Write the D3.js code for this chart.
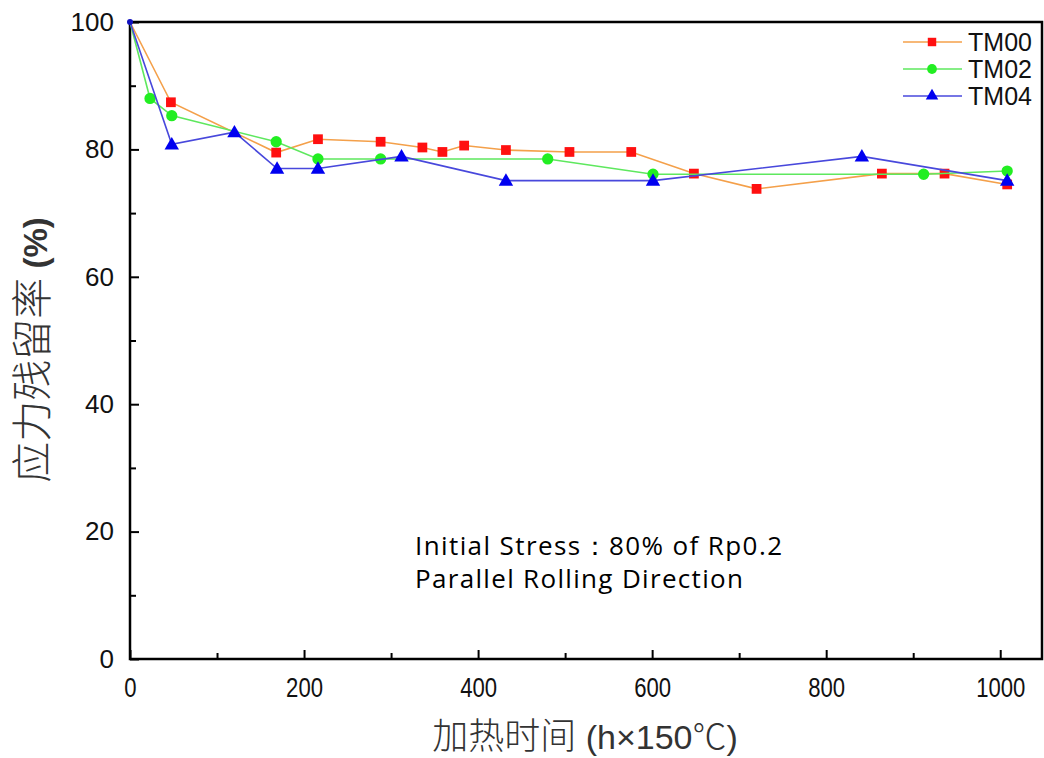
<!DOCTYPE html>
<html>
<head>
<meta charset="utf-8">
<script src="https://cdn.jsdelivr.net/npm/d3@7"></script>
<style>
    body { margin: 0; background: #fff; }
    svg { display: block; }
</style>
</head>
<body>
<svg id="chart"></svg>
<script>
// данные (читаются с картинки)
const tm00X = [0, 47, 168, 216, 288, 336, 359, 384, 432, 505, 576, 648, 720, 864, 936, 1008];
const tm00Y = [100, 87.4, 79.5, 81.6, 81.2, 80.3, 79.6, 80.6, 79.9, 79.6, 79.6, 76.2, 73.8, 76.2, 76.2, 74.5];
const tm02X = [0, 23, 48, 168, 216, 288, 480, 601, 912, 1008];
const tm02Y = [100, 88.0, 85.3, 81.2, 78.5, 78.5, 78.5, 76.1, 76.1, 76.6];
const tm04X = [0, 48, 120, 169, 216, 312, 432, 601, 841, 1008];
const tm04Y = [100, 80.8, 82.7, 77.0, 77.0, 78.9, 75.1, 75.1, 78.9, 75.1];
const seriesNames = ['TM00', 'TM02', 'TM04'];
const xTicks = [0, 200, 400, 600, 800, 1000];
const xMinorTicks = [100, 300, 500, 700, 900];
const yTicks = [0, 20, 40, 60, 80, 100];
const yMinorTicks = [10, 30, 50, 70, 90];

const width = 1044;
const height = 758;
const plotLeft = 130, plotRight = 1042, plotTop = 22, plotBottom = 659;

let svg = d3.select("#chart").attr("width", width).attr("height", height);

let scX = d3.scaleLinear().domain([0, 1048]).range([plotLeft, plotRight]);
let scY = d3.scaleLinear().domain([0, 100]).range([plotBottom, plotTop]);

const series = [
    { name: seriesNames[0], xs: tm00X, ys: tm00Y, line: "#f4a04a", fill: "#ff1010", shape: d3.symbolSquare, size: 95 },
    { name: seriesNames[1], xs: tm02X, ys: tm02Y, line: "#5ee85e", fill: "#22ee22", shape: d3.symbolCircle, size: 100 },
    { name: seriesNames[2], xs: tm04X, ys: tm04Y, line: "#4848dc", fill: "#0000f0", shape: d3.symbolTriangle, size: 90 }
];

// оси
let axisX = d3.axisBottom(scX).tickValues(xTicks).tickFormat(d3.format("d"))
    .tickSizeInner(-9).tickSizeOuter(0).tickPadding(19);
let axisXMinor = d3.axisBottom(scX).tickValues(xMinorTicks).tickSizeInner(-6).tickSizeOuter(0).tickFormat("");
let axisY = d3.axisLeft(scY).tickValues(yTicks).tickSizeInner(-9).tickSizeOuter(0).tickPadding(16);
let axisYMinor = d3.axisLeft(scY).tickValues(yMinorTicks).tickSizeInner(-6).tickSizeOuter(0).tickFormat("");

let gx = svg.append("g").attr("transform", `translate(0, ${plotBottom})`).call(axisX);
svg.append("g").attr("transform", `translate(0, ${plotBottom})`).call(axisXMinor);
let gy = svg.append("g").attr("transform", `translate(${plotLeft}, 0)`).call(axisY);
svg.append("g").attr("transform", `translate(${plotLeft}, 0)`).call(axisYMinor);

svg.selectAll(".domain").remove();
svg.selectAll(".tick line").attr("stroke", "#000").attr("stroke-width", 2);

// подписи по X чуть сжаты по горизонтали
gx.selectAll("text")
    .attr("font-family", "Liberation Sans, Arial, sans-serif")
    .attr("font-size", 27)
    .attr("fill", "#111")
    .attr("transform", "scale(0.82, 1)");

gy.selectAll("text")
    .attr("font-family", "Liberation Sans, Arial, sans-serif")
    .attr("font-size", 26)
    .attr("fill", "#111");

// рамка
svg.append("rect")
    .attr("x", plotLeft).attr("y", plotTop)
    .attr("width", plotRight - plotLeft).attr("height", plotBottom - plotTop)
    .attr("fill", "none").attr("stroke", "#000").attr("stroke-width", 2.5);

// линии и маркеры
let line = d3.line().x(d => scX(d[0])).y(d => scY(d[1]));

series.forEach(s => {
    let pts = s.xs.map((x, i) => [x, s.ys[i]]);
    svg.append("path")
        .datum(pts)
        .attr("d", line)
        .attr("fill", "none")
        .attr("stroke", s.line)
        .attr("stroke-width", 1.6);
    svg.selectAll(".m-" + s.name)
        .data(pts.slice(1))
        .enter()
        .append("path")
        .attr("class", "m-" + s.name)
        .attr("d", d3.symbol().type(s.shape).size(s.size))
        .attr("transform", d => `translate(${scX(d[0])}, ${scY(d[1]) + (s.shape === d3.symbolTriangle ? 1 : 0)})`)
        .attr("fill", s.fill);
});

// точка в начале
svg.append("circle").attr("cx", scX(0)).attr("cy", scY(100)).attr("r", 3).attr("fill", "#1010c0");

// легенда
series.forEach((s, i) => {
    let y = 42 + i * 27;
    svg.append("line")
        .attr("x1", 903).attr("x2", 962).attr("y1", y).attr("y2", y)
        .attr("stroke", s.line).attr("stroke-width", 1.6);
    svg.append("path")
        .attr("d", d3.symbol().type(s.shape).size(s.size * 0.75))
        .attr("transform", `translate(932, ${y})`)
        .attr("fill", s.fill);
    svg.append("text")
        .attr("x", 968).attr("y", y + 9)
        .attr("font-family", "Liberation Sans, Arial, sans-serif")
        .attr("font-size", 25)
        .attr("textLength", 64)
        .attr("fill", "#111")
        .text(s.name);
});

// подписи осей
svg.append("text")
    .attr("transform", "translate(47, 350) rotate(-90)")
    .attr("text-anchor", "middle")
    .attr("fill", "#333")
    .html('<tspan font-family="Noto Sans CJK SC" font-weight="300" font-size="41">应力残留率</tspan><tspan font-family="Liberation Sans, Arial, sans-serif" font-weight="bold" font-size="33"> (%)</tspan>');

svg.append("text")
    .attr("x", 585).attr("y", 749)
    .attr("text-anchor", "middle")
    .attr("fill", "#333")
    .html('<tspan font-family="Noto Sans CJK SC" font-weight="300" font-size="36">加热时间</tspan><tspan font-family="Liberation Sans, Arial, sans-serif" font-size="34"> (h×150</tspan><tspan font-family="Noto Sans CJK SC" font-weight="300" font-size="34">℃</tspan><tspan font-family="Liberation Sans, Arial, sans-serif" font-size="34">)</tspan>');

// примечание
svg.append("text")
    .attr("x", 415).attr("y", 555)
    .attr("font-family", "Open Sans, Noto Sans, sans-serif")
    .attr("font-size", 26)
    .attr("textLength", 367)
    .attr("fill", "#000")
    .text("Initial Stress：80% of Rp0.2");
svg.append("text")
    .attr("x", 415).attr("y", 588)
    .attr("font-family", "Open Sans, Noto Sans, sans-serif")
    .attr("font-size", 26)
    .attr("textLength", 328)
    .attr("fill", "#000")
    .text("Parallel Rolling Direction");
</script>
</body>
</html>
